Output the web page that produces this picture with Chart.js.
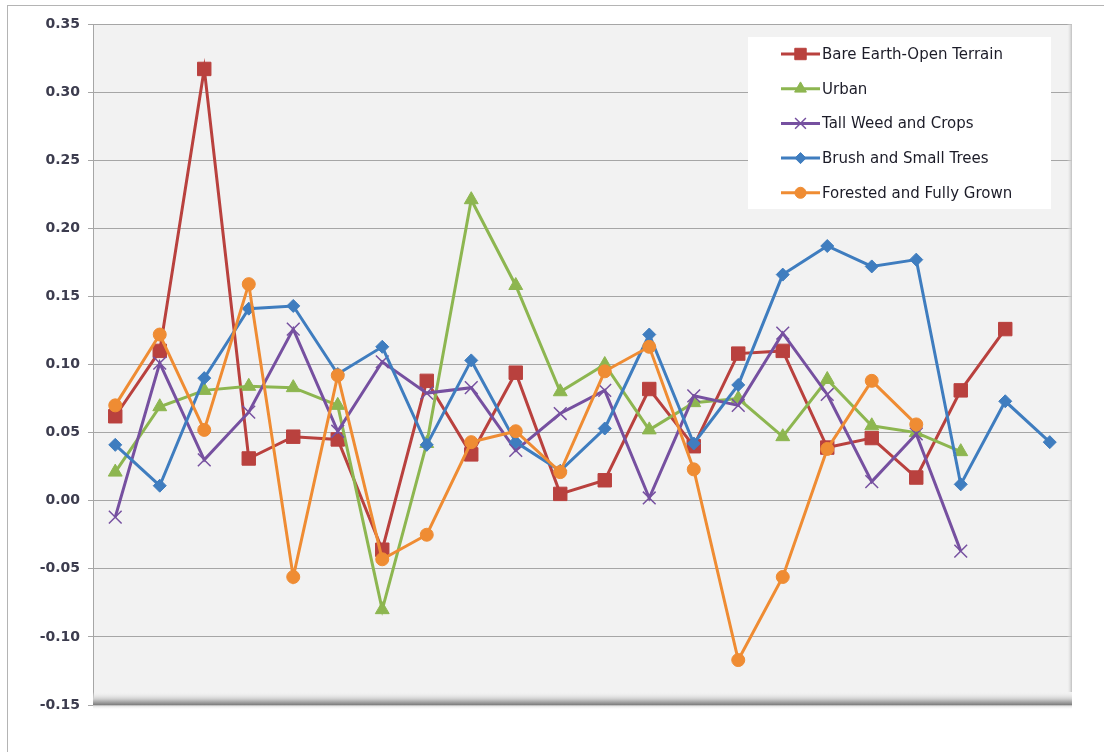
<!DOCTYPE html>
<html>
<head>
<meta charset="utf-8">
<title>Land cover series</title>
<script src="https://cdn.jsdelivr.net/npm/chart.js@4.4.1/dist/chart.umd.min.js"></script>
<style>
  html, body { margin: 0; padding: 0; background: #ffffff; overflow: hidden; }
  #frame {
    position: absolute; left: 7px; top: 5px; width: 1130px; height: 780px;
    border: 1.5px solid #b4b4b4; box-sizing: border-box;
  }
  #chart { position: absolute; left: 0; top: 0; }
</style>
</head>
<body>
<div id="frame"></div>
<canvas id="chart" width="1104" height="752"></canvas>
<script>
// Sample positions along the horizontal axis (not labelled)
const categories = ['1','2','3','4','5','6','7','8','9','10','11','12','13','14','15','16','17','18','19','20','21','22'];

const bareEarth = [0.062, 0.110, 0.317, 0.031, 0.047, 0.045, -0.036, 0.088, 0.034, 0.094, 0.005,
                   0.015, 0.082, 0.040, 0.108, 0.110, 0.039, 0.046, 0.017, 0.081, 0.126, null];
const urban     = [0.021, 0.069, 0.081, 0.084, 0.083, 0.070, -0.080, 0.042, 0.221, 0.158, 0.080,
                   0.100, 0.052, 0.072, 0.075, 0.047, 0.089, 0.055, 0.050, 0.036, null, null];
const tallWeed  = [-0.012, 0.101, 0.030, 0.065, 0.126, 0.051, 0.102, 0.079, 0.083, 0.037, 0.064,
                   0.081, 0.002, 0.077, 0.070, 0.123, 0.078, 0.014, 0.049, -0.037, null, null];
const brush     = [0.041, 0.011, 0.090, 0.141, 0.143, 0.093, 0.113, 0.041, 0.103, 0.043, 0.022,
                   0.053, 0.122, 0.042, 0.085, 0.166, 0.187, 0.172, 0.177, 0.012, 0.073, 0.043];
const forested  = [0.070, 0.122, 0.052, 0.159, -0.056, 0.092, -0.043, -0.025, 0.043, 0.051, 0.021,
                   0.095, 0.113, 0.023, -0.117, -0.056, 0.038, 0.088, 0.056, null, null, null];

const seriesNames = ['Bare Earth-Open Terrain', 'Urban', 'Tall Weed and Crops',
                     'Brush and Small Trees', 'Forested and Fully Grown'];

const yTicks = [-0.15, -0.10, -0.05, 0.00, 0.05, 0.10, 0.15, 0.20, 0.25, 0.30, 0.35];

const FONT = '"DejaVu Sans", "Liberation Sans", sans-serif';

function series(label, data, color, pointStyle, radius, order, pointBorderWidth) {
  return {
    label, data, order,
    borderColor: color,
    backgroundColor: color,
    pointBackgroundColor: color,
    pointBorderColor: color,
    pointStyle,
    pointRadius: radius,
    pointHoverRadius: radius,
    pointBorderWidth: pointBorderWidth,
    borderWidth: 3,
    tension: 0,
    spanGaps: false
  };
}

// Later series are painted over earlier ones
const datasets = [
  series(seriesNames[0], bareEarth, '#B9413E', 'rect',      9.5, 5, 1),
  series(seriesNames[1], urban,     '#8DB650', 'triangle',  8,   4, 1),
  series(seriesNames[2], tallWeed,  '#7650A0', 'crossRot',  9,   3, 1.5),
  series(seriesNames[3], brush,     '#3F7DBF', 'rectRot',   6.5, 2, 1),
  series(seriesNames[4], forested,  '#EF8C33', 'circle',    6.5, 1, 1)
];

// Plot area fill, floor band and right wall shading
const plotBackdrop = {
  id: 'plotBackdrop',
  beforeDraw(chart) {
    const { ctx, chartArea: a } = chart;
    ctx.save();
    ctx.fillStyle = '#f2f2f2';
    ctx.fillRect(a.left, a.top, a.right - a.left, a.bottom - a.top);
    ctx.restore();
  },
  beforeDatasetsDraw(chart) {
    const { ctx, chartArea: a } = chart;
    ctx.save();
    const fh = 13;
    const g = ctx.createLinearGradient(0, a.bottom - fh, 0, a.bottom);
    g.addColorStop(0, 'rgba(242,242,242,0)');
    g.addColorStop(0.55, 'rgba(205,205,205,1)');
    g.addColorStop(1, '#7c7c7c');
    ctx.fillStyle = g;
    ctx.fillRect(a.left, a.bottom - fh, a.right - a.left, fh);
    const w = ctx.createLinearGradient(a.right - 5, 0, a.right, 0);
    w.addColorStop(0, 'rgba(242,242,242,0)');
    w.addColorStop(1, 'rgba(190,190,190,1)');
    ctx.fillStyle = w;
    ctx.fillRect(a.right - 5, a.top, 5, a.bottom - a.top - fh);
    // faint shadow under the floor
    const s = ctx.createLinearGradient(0, a.bottom, 0, a.bottom + 5);
    s.addColorStop(0, 'rgba(200,200,200,0.8)');
    s.addColorStop(1, 'rgba(255,255,255,0)');
    ctx.fillStyle = s;
    ctx.fillRect(a.left, a.bottom, a.right - a.left, 5);
    ctx.restore();
  }
};

// Legend box inside the plot area, styled from the datasets
const insetLegend = {
  id: 'insetLegend',
  afterDatasetsDraw(chart) {
    const { ctx } = chart;
    const box = { x: 748, y: 37, w: 303, h: 172 };
    ctx.save();
    ctx.fillStyle = '#ffffff';
    ctx.fillRect(box.x, box.y, box.w, box.h);
    ctx.font = '15px ' + FONT;
    ctx.textBaseline = 'middle';
    ctx.textAlign = 'left';
    chart.data.datasets.forEach((ds, i) => {
      const cy = box.y + 17 + i * 34.7;
      const x0 = 781, x1 = 820, xm = (x0 + x1) / 2;
      ctx.strokeStyle = ds.borderColor;
      ctx.lineWidth = 3;
      ctx.beginPath();
      ctx.moveTo(x0, cy);
      ctx.lineTo(x1, cy);
      ctx.stroke();
      ctx.fillStyle = ds.pointBackgroundColor;
      ctx.strokeStyle = ds.pointBorderColor;
      ctx.lineWidth = ds.pointBorderWidth;
      Chart.helpers.drawPoint(ctx, {
        pointStyle: ds.pointStyle,
        radius: ds.pointRadius * 0.85,
        rotation: 0,
        borderWidth: ds.pointBorderWidth
      }, xm, cy);
      ctx.fillStyle = '#1c1c28';
      ctx.fillText(ds.label, 822, cy + 1);
    });
    ctx.restore();
  }
};

new Chart(document.getElementById('chart'), {
  type: 'line',
  data: { labels: categories, datasets },
  plugins: [plotBackdrop, insetLegend],
  options: {
    responsive: false,
    animation: false,
    events: [],
    layout: { padding: { left: 0, top: 24, right: 32, bottom: 47 } },
    plugins: {
      legend: { display: false },
      tooltip: { enabled: false },
      title: { display: false }
    },
    scales: {
      x: {
        type: 'category',
        display: false,
        offset: true,
        grid: { display: false }
      },
      y: {
        min: -0.15,
        max: 0.35,
        afterFit(scale) { scale.width = 93; },
        afterBuildTicks(scale) { scale.ticks = yTicks.map(v => ({ value: v })); },
        grid: {
          color: '#a6a6a6',
          lineWidth: 1,
          drawTicks: true,
          tickLength: 5,
          tickColor: '#a6a6a6'
        },
        border: { display: true, color: '#a6a6a6', width: 1 },
        ticks: {
          padding: 8,
          color: '#3c3c4e',
          font: { family: FONT, size: 14, weight: 'bold' },
          callback: v => Number(v).toFixed(2)
        }
      }
    }
  }
});
</script>
</body>
</html>
